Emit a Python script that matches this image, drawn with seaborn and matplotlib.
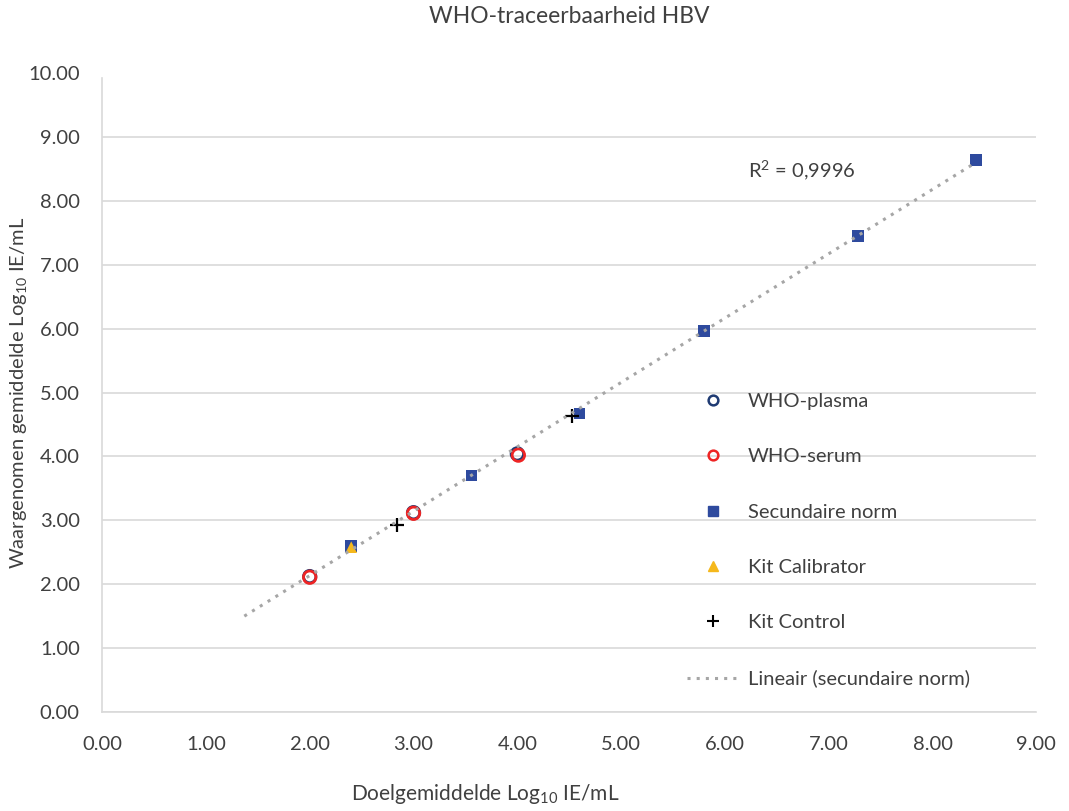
import numpy as np
import pandas as pd
import matplotlib
matplotlib.use("Agg")
import matplotlib.pyplot as plt
import seaborn as sns
from matplotlib.lines import Line2D
from matplotlib import font_manager

# ---- data ----
plasma_x = [2.00, 3.00, 4.00]
plasma_y = [2.12, 3.12, 4.04]
serum_x = [2.00, 3.00, 4.01]
serum_y = [2.11, 3.11, 4.02]
sec_x = [2.40, 3.56, 4.60, 5.80, 7.28, 8.42]
sec_y = [2.60, 3.70, 4.67, 5.96, 7.45, 8.64]
cal_x = [2.40]
cal_y = [2.58]
ctrl_x = [2.84, 4.53]
ctrl_y = [2.92, 4.63]
trend_start = 1.37
r2_text = "R$^2$ = 0,9996"
xticks = [0, 1, 2, 3, 4, 5, 6, 7, 8, 9]
yticks = [0, 1, 2, 3, 4, 5, 6, 7, 8, 9, 10]
title = "WHO-traceerbaarheid HBV"
xlabel = "Doelgemiddelde Log$_{10}$ IE/mL"
ylabel = "Waargenomen gemiddelde Log$_{10}$ IE/mL"

sns.set_theme(style="white")
plt.rcParams["font.family"] = ["Lato", "DejaVu Sans"]
plt.rcParams["mathtext.fontset"] = "custom"
plt.rcParams["mathtext.rm"] = "Lato"
plt.rcParams["mathtext.it"] = "Lato"

names = {f.name for f in font_manager.fontManager.ttflist}
narrow = "Liberation Sans Narrow" if "Liberation Sans Narrow" in names else "Lato"

fig = plt.figure(figsize=(10.69, 8.11), dpi=100)
ax = fig.add_axes([0.0955, 0.122, 0.874, 0.788])

c_plasma = "#1f3b73"
c_serum = "#ee2424"
c_sec = "#2e4a9e"
c_cal = "#f5b81c"
c_ctrl = "#000000"
c_trend = "#a6a6a6"
c_text = "#404040"

sns.scatterplot(x=plasma_x, y=plasma_y, ax=ax, marker="o", s=80,
                facecolor="none", edgecolor=c_plasma, linewidth=2, zorder=3)
sns.scatterplot(x=serum_x, y=serum_y, ax=ax, marker="o", s=80,
                facecolor="none", edgecolor=c_serum, linewidth=2, zorder=4)
sns.scatterplot(x=sec_x, y=sec_y, ax=ax, marker="s", s=70,
                color=c_sec, edgecolor="none", zorder=3)
sns.scatterplot(x=cal_x, y=cal_y, ax=ax, marker="^", s=70,
                color=c_cal, edgecolor="none", zorder=4)
sns.scatterplot(x=ctrl_x, y=ctrl_y, ax=ax, marker="+", s=90,
                color=c_ctrl, linewidth=1.6, zorder=5)

# linear trendline of secondary standard
slope, intercept = np.polyfit(sec_x, sec_y, 1)
tx = np.array([trend_start, sec_x[-1]])
sns.lineplot(x=tx, y=slope * tx + intercept, ax=ax, color=c_trend,
             linestyle=(0, (1, 2)), linewidth=2.2, zorder=6)

ax.set_xlim(0, 9)
ax.set_ylim(0, 10)
ax.set_xticks(xticks)
ax.set_xticklabels([f"{v:.2f}" for v in xticks])
ax.set_yticks(yticks)
ax.set_yticklabels([f"{v:.2f}" for v in yticks])
ax.tick_params(axis="both", labelsize=14.5, colors=c_text, length=0)
ax.tick_params(axis="x", pad=17)
ax.tick_params(axis="y", pad=16)
ax.yaxis.grid(True, color="#d9d9d9", linewidth=1.2)
ax.xaxis.grid(False)
ax.yaxis.get_gridlines()[-1].set_visible(False)
for s in ["top", "right"]:
    ax.spines[s].set_visible(False)
for s in ["left", "bottom"]:
    ax.spines[s].set_color("#d9d9d9")
    ax.spines[s].set_linewidth(1.2)
ax.spines["left"].set_bounds(0, 9.92)

ax.set_title(title, fontsize=16.5, color=c_text, pad=36)
ax.set_xlabel(xlabel, fontsize=15, color=c_text)
ax.xaxis.set_label_coords(0.41, -0.11)
ax.set_ylabel(ylabel, fontsize=14.5, color=c_text, family=[narrow, "DejaVu Sans"])
ax.yaxis.set_label_coords(-0.078, 0.5)

ax.text(6.22, 8.48, r2_text, fontsize=14.5, color=c_text, va="center", ha="left")

handles = [
    Line2D([], [], marker="o", linestyle="none", markersize=7, markerfacecolor="none",
           markeredgecolor=c_plasma, markeredgewidth=1.8),
    Line2D([], [], marker="o", linestyle="none", markersize=7, markerfacecolor="none",
           markeredgecolor=c_serum, markeredgewidth=1.8),
    Line2D([], [], marker="s", linestyle="none", markersize=7, color=c_sec),
    Line2D([], [], marker="^", linestyle="none", markersize=7, color=c_cal),
    Line2D([], [], marker="+", linestyle="none", markersize=8, color=c_ctrl,
           markeredgewidth=1.5),
    Line2D([], [], color=c_trend, linestyle=(0, (1, 2)), linewidth=2.2),
]
labels = ["WHO-plasma", "WHO-serum", "Secundaire norm", "Kit Calibrator",
          "Kit Control", "Lineair (secundaire norm)"]
leg = ax.legend(handles, labels, loc="upper left", bbox_to_anchor=(0.617, 0.512),
                frameon=False, fontsize=14.5, labelspacing=1.9, handlelength=2.6,
                handletextpad=0.45, borderaxespad=0)
for t in leg.get_texts():
    t.set_color(c_text)

fig.savefig("out.png", dpi=100)
